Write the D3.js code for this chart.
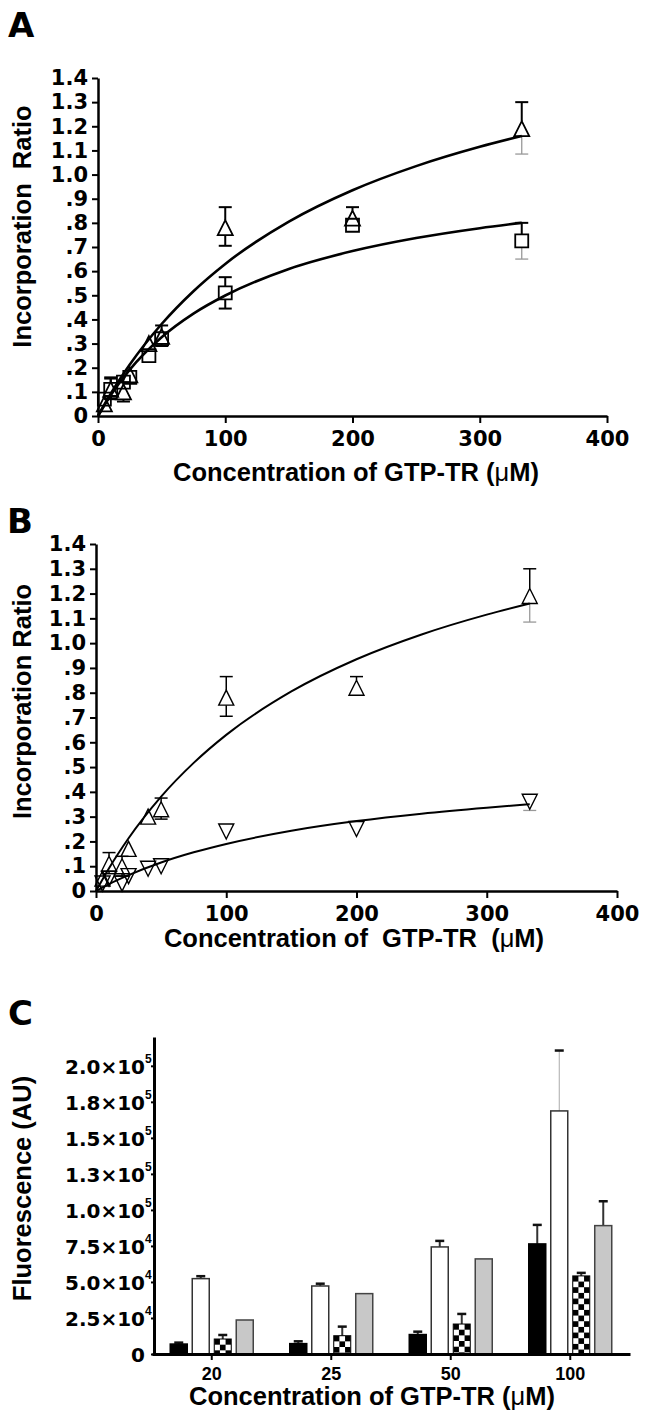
<!DOCTYPE html>
<html><head><meta charset="utf-8">
<script src="https://cdn.jsdelivr.net/npm/d3@7"></script>
<style>body{margin:0;background:#fff}</style>
</head><body>
<svg id="c" width="653" height="1423"></svg>
<script>
// ---------- data ----------
const concX = [5, 10, 20, 25, 40, 50, 100, 200, 333];
const triY     = [0.05, 0.11, 0.10, 0.17, 0.30, 0.33, 0.78, 0.82, 1.19];
const triErrUp = [0.02, 0.045, 0.04, 0.02, 0.03, 0.045, 0.085, 0.045, 0.11];
const triErrDn = [0.02, 0.04, 0.04, 0.02, 0.03, 0.04, 0.075, 0.03, 0.105];
const sqY      = [0.07, 0.11, 0.14, 0.16, 0.25, 0.32, 0.51, 0.79, 0.725];
const sqErrUp  = [0.02, 0.05, 0.02, 0.02, 0.02, 0.02, 0.065, 0.015, 0.075];
const sqErrDn  = [0.02, 0.04, 0.02, 0.02, 0.02, 0.02, 0.065, 0.015, 0.075];
const dnY      = [0.03, 0.05, 0.03, 0.06, 0.09, 0.10, 0.24, 0.25, 0.36];
const dnErrUp  = [0.01, 0.02, 0.02, 0.01, 0.01, 0.01, 0.01, 0.01, 0.02];
const dnErrDn  = [0.01, 0.02, 0.02, 0.01, 0.01, 0.01, 0.01, 0.01, 0.035];
// fitted curves, points
const fitX   = [0, 10, 25, 50, 75, 100, 150, 200, 250, 300, 333];
const triFit = [0, 0.092, 0.213, 0.381, 0.517, 0.630, 0.805, 0.935, 1.035, 1.115, 1.160];
const sqFit  = [0, 0.086, 0.192, 0.326, 0.424, 0.499, 0.609, 0.683, 0.737, 0.778, 0.800];
const dnFit  = [0, 0.028, 0.064, 0.115, 0.156, 0.190, 0.243, 0.282, 0.312, 0.336, 0.350];
const xTicks = [0, 100, 200, 300, 400];
const yTicks = [0, 0.1, 0.2, 0.3, 0.4, 0.5, 0.6, 0.7, 0.8, 0.9, 1.0, 1.1, 1.2, 1.3, 1.4];
const yTickLabels = ["0", ".1", ".2", ".3", ".4", ".5", ".6", ".7", ".8", ".9", "1.0", "1.1", "1.2", "1.3", "1.4"];

const barCats   = ["20", "25", "50", "100"];
const barSeries = ["black", "white", "checker", "gray"];
const blackVals = [6900, 7200, 13500, 76400];
const blackErr  = [1000, 1600, 2000, 13200];
const whiteVals = [52300, 47200, 74300, 168700];
const whiteErr  = [1700, 1600, 4200, 41900];
const checkVals = [10400, 12700, 20800, 54200];
const checkErr  = [2800, 6300, 7000, 2100];
const grayVals  = [23600, 41900, 66000, 89100];
const grayErr   = [0, 0, 0, 16900];
const cYTicks = [0, 25000, 50000, 75000, 100000, 125000, 150000, 175000, 200000];
const cYMant  = ["0", "2.5", "5.0", "7.5", "1.0", "1.3", "1.5", "1.8", "2.0"];
const cYExp   = ["", "4", "4", "4", "5", "5", "5", "5", "5"];

// ---------- drawing ----------
const svg = d3.select("#c");
svg.append("rect").attr("width", 653).attr("height", 1423).attr("fill", "#fff");
const TICKF = "DejaVu Sans";
const TITLEF = "Liberation Sans, Arial, sans-serif";

function letter(t, x, y) {
  svg.append("text").attr("x", x).attr("y", y).attr("font-family", TICKF)
    .attr("font-weight", "bold").attr("font-size", 34).text(t);
}
function styleAxis(g, fam, size, sw) {
  g.attr("font-family", null).attr("font-size", null);
  g.select(".domain").attr("stroke", "#000").attr("stroke-width", sw);
  g.selectAll(".tick line").attr("stroke", "#000").attr("stroke-width", 2);
  g.selectAll(".tick text").attr("font-family", fam).attr("font-weight", "bold")
    .attr("font-size", size).attr("fill", "#000");
}
function xTitle(parts, x, y) {
  const t = svg.append("text").attr("x", x).attr("y", y).attr("text-anchor", "middle")
    .attr("font-family", TITLEF).attr("font-weight", "bold").attr("font-size", 25.5)
    .attr("xml:space", "preserve").style("white-space", "pre");
  t.append("tspan").text(parts[0]);
  t.append("tspan").attr("font-weight", "normal").text("\u03bc");
  t.append("tspan").text(parts[1]);
}
function yTitle(txt, x, y) {
  svg.append("text").attr("transform", `translate(${x},${y}) rotate(-90)`)
    .attr("text-anchor", "middle").attr("font-family", TITLEF).attr("font-weight", "bold")
    .attr("font-size", 25.5).attr("xml:space", "preserve").style("white-space", "pre").text(txt);
}
const upTri = "M0,-7.5L7.5,7.5L-7.5,7.5Z";
const dnTri = "M0,7.5L7.5,-7.5L-7.5,-7.5Z";
const sq = "M-6.5,-6.5H6.5V6.5H-6.5Z";

function errBars(g, xs, ys, up, dn, x, y, half, sw) {
  xs.forEach((xv, i) => {
    const cx = x(xv), cy = y(ys[i]);
    const t = y(ys[i] + up[i]), b = y(ys[i] - dn[i]);
    const last = i === xs.length - 1;
    if (cy - half > t + 0.5) {
      g.append("line").attr("x1", cx).attr("x2", cx).attr("y1", t).attr("y2", cy - half)
        .attr("stroke", "#000").attr("stroke-width", sw);
      g.append("line").attr("x1", cx - 6.5).attr("x2", cx + 6.5).attr("y1", t).attr("y2", t)
        .attr("stroke", "#000").attr("stroke-width", sw);
    }
    if (b > cy + half + 0.5) {
      const col = last ? "#999" : "#000";
      g.append("line").attr("x1", cx).attr("x2", cx).attr("y1", cy + half).attr("y2", b)
        .attr("stroke", col).attr("stroke-width", last ? 1.3 : sw);
      g.append("line").attr("x1", cx - 6.5).attr("x2", cx + 6.5).attr("y1", b).attr("y2", b)
        .attr("stroke", col).attr("stroke-width", last ? 1.3 : sw);
    }
  });
}
function markers(g, xs, ys, x, y, path, sw) {
  g.selectAll(null).data(xs).join("path")
    .attr("transform", (d, i) => `translate(${x(d)},${y(ys[i])})`)
    .attr("d", path).attr("fill", "none").attr("stroke", "#000").attr("stroke-width", sw);
}
function curve(g, fx, fy, x, y, sw) {
  const ln = d3.line().x(d => x(d)).y((d, i) => y(fy[i])).curve(d3.curveMonotoneX);
  g.append("path").attr("d", ln(fx)).attr("fill", "none").attr("stroke", "#000").attr("stroke-width", sw);
}
function scatterAxes(x, y, x0, y0) {
  const gx = svg.append("g").attr("transform", `translate(0,${y0})`)
    .call(d3.axisBottom(x).tickValues(xTicks).tickFormat(d3.format("d")).tickSize(7).tickPadding(8).tickSizeOuter(0));
  styleAxis(gx, TICKF, 21, 2.5);
  const gy = svg.append("g").attr("transform", `translate(${x0},0)`)
    .call(d3.axisLeft(y).tickValues(yTicks).tickFormat((d, i) => yTickLabels[i]).tickSize(6).tickPadding(4).tickSizeOuter(0));
  styleAxis(gy, TICKF, 21, 2.5);
}

// ----- Panel A -----
letter("A", 8, 37);
const xA = d3.scaleLinear().domain([0, 400]).range([98, 607]);
const yA = d3.scaleLinear().domain([0, 1.4]).range([416, 78]);
scatterAxes(xA, yA, 98, 416);
const gA = svg.append("g");
errBars(gA, concX, triY, triErrUp, triErrDn, xA, yA, 7.5, 2);
errBars(gA, concX, sqY, sqErrUp, sqErrDn, xA, yA, 6.5, 2);
markers(gA, concX, triY, xA, yA, upTri, 1.8);
markers(gA, concX, sqY, xA, yA, sq, 1.8);
curve(gA, fitX, triFit, xA, yA, 2.6);
curve(gA, fitX, sqFit, xA, yA, 2.6);
xTitle(["Concentration of GTP-TR (", "M)"], 356, 481);
yTitle("Incorporation  Ratio", 31, 226.5);

// ----- Panel B -----
letter("B", 7, 533);
const xB = d3.scaleLinear().domain([0, 400]).range([96, 617]);
const yB = d3.scaleLinear().domain([0, 1.4]).range([891, 544]);
scatterAxes(xB, yB, 96, 891);
const gB = svg.append("g");
errBars(gB, concX, triY, triErrUp, triErrDn, xB, yB, 7.5, 1.5);
errBars(gB, concX, dnY, dnErrUp, dnErrDn, xB, yB, 7.5, 1.5);
markers(gB, concX, triY, xB, yB, upTri, 1.4);
markers(gB, concX, dnY, xB, yB, dnTri, 1.4);
curve(gB, fitX, triFit, xB, yB, 2);
curve(gB, fitX, dnFit, xB, yB, 2);
xTitle(["Concentration of  GTP-TR  (", "M)"], 354, 947);
yTitle("Incorporation Ratio", 31, 701.5);

// ----- Panel C -----
letter("C", 8, 1025);
const defs = svg.append("defs");
const sqs = 17 / 3;
const pat = defs.append("pattern").attr("id", "chk").attr("patternUnits", "userSpaceOnUse")
  .attr("width", sqs * 2).attr("height", sqs * 2);
pat.append("rect").attr("width", sqs * 2).attr("height", sqs * 2).attr("fill", "#fff");
pat.append("rect").attr("width", sqs).attr("height", sqs).attr("fill", "#000");
pat.append("rect").attr("x", sqs).attr("y", sqs).attr("width", sqs).attr("height", sqs).attr("fill", "#000");

const yC = d3.scaleLinear().domain([0, 220000]).range([1354, 1037]);
const x0 = d3.scaleBand().domain(barCats).range([152, 630]);
const groupW = 83;
const x1 = d3.scaleBand().domain(barSeries).range([0, groupW]).paddingInner(0.227);
const gOff = (x0.bandwidth() - groupW) / 2;
const vals = [blackVals, whiteVals, checkVals, grayVals];
const errs = [blackErr, whiteErr, checkErr, grayErr];
const gC = svg.append("g");
barSeries.forEach((s, j) => {
  barCats.forEach((c, i) => {
    const v = vals[j][i], e = errs[j][i];
    const bx = x0(c) + gOff + x1(s), bw = x1.bandwidth();
    const top = yC(v), h = yC(0) - top;
    // error bar
    if (e > 0) {
      const et = yC(v + e);
      const thin = (s === "white" && c === "100");
      gC.append("line").attr("x1", bx + bw / 2).attr("x2", bx + bw / 2).attr("y1", top).attr("y2", et)
        .attr("stroke", thin ? "#aaa" : "#333").attr("stroke-width", thin ? 1 : 2);
      gC.append("line").attr("x1", bx + bw / 2 - 4.5).attr("x2", bx + bw / 2 + 4.5).attr("y1", et).attr("y2", et)
        .attr("stroke", "#111").attr("stroke-width", 2.5);
    }
    if (s === "checker") {
      gC.append("g").attr("transform", `translate(${bx},${top})`).append("rect")
        .attr("width", bw).attr("height", h).attr("fill", "url(#chk)")
        .attr("stroke", "#000").attr("stroke-width", 1);
    } else {
      const fill = s === "black" ? "#000" : s === "white" ? "#fff" : "#c8c8c8";
      const stroke = s === "black" ? "#000" : s === "white" ? "#333" : "#444";
      gC.append("rect").attr("x", bx).attr("y", top).attr("width", bw).attr("height", h)
        .attr("fill", fill).attr("stroke", stroke).attr("stroke-width", 1.5);
    }
  });
});
const gcx = svg.append("g").attr("transform", "translate(0,1354)")
  .call(d3.axisBottom(x0).tickSize(6).tickPadding(7).tickSizeOuter(0));
styleAxis(gcx, TITLEF, 18, 3);
const gcy = svg.append("g").attr("transform", "translate(154,0)")
  .call(d3.axisLeft(yC).tickValues(cYTicks).tickSize(3).tickFormat("").tickSizeOuter(0));
styleAxis(gcy, TICKF, 20, 3);
gcy.selectAll(".tick").each(function (d, i) {
  const t = d3.select(this);
  t.append("text").attr("x", -9).attr("dy", "0.36em").attr("text-anchor", "end")
    .attr("font-family", TICKF).attr("font-weight", "bold").attr("font-size", 20).attr("fill", "#000")
    .text(cYMant[i] + (cYExp[i] ? "\u00d710" : ""));
  if (cYExp[i]) {
    t.append("text").attr("x", -9).attr("y", -3).attr("text-anchor", "start")
      .attr("font-family", TITLEF).attr("font-weight", "bold").attr("font-size", 12).attr("fill", "#000")
      .text(cYExp[i]);
  }
});
// "0" label sits slightly further left
gcy.selectAll(".tick").filter((d) => d === 0).select("text").attr("x", -9);
xTitle(["Concentration of GTP-TR (", "M)"], 372, 1405);
yTitle("Fluorescence (AU)", 31, 1188.5);
</script>
</body></html>
